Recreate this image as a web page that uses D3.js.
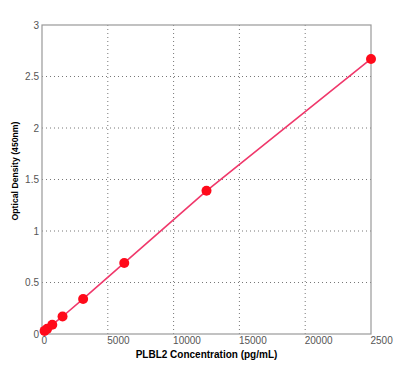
<!DOCTYPE html>
<html>
<head>
<meta charset="utf-8">
<script src="https://cdn.jsdelivr.net/npm/d3@7"></script>
<style>
  body { margin: 0; background: #fff; }
  .tick text { font-family: "Liberation Sans", Arial, sans-serif; font-size: 10px; fill: #555; }
</style>
</head>
<body>
<div id="chart"></div>
<script>
// standard curve data
const concentrations = [195, 390, 781, 1562, 3125, 6250, 12500, 25000];
const densities = [0.03, 0.05, 0.09, 0.17, 0.34, 0.69, 1.39, 2.67];
const xTicks = [0, 5000, 10000, 15000, 20000, 25000];
const xTickLabels = ['0', '5000', '10000', '15000', '20000', '2500'];
const yTicks = [0, 0.5, 1, 1.5, 2, 2.5, 3];
const yTickLabels = ['0', '0.5', '1', '1.5', '2', '2.5', '3'];

const W = 398, H = 373;
const margin = {top: 25, right: 27, bottom: 39, left: 42},
  width = W - margin.left - margin.right,
  height = H - margin.top - margin.bottom;

const svg = d3.select('#chart').append('svg')
  .attr('width', W)
  .attr('height', H)
  .append('g')
  .attr('transform', 'translate(' + margin.left + ',' + margin.top + ')');

const x = d3.scaleLinear().domain([0, 25000]).range([0, width]);
const y = d3.scaleLinear().domain([0, 3]).range([height, 0]);

// grid
svg.append('g')
  .selectAll('line')
  .data(xTicks.slice(1, -1))
  .enter().append('line')
  .attr('x1', d => x(d)).attr('x2', d => x(d))
  .attr('y1', 0).attr('y2', height)
  .attr('stroke', '#777').attr('stroke-dasharray', '1,3');

svg.append('g')
  .selectAll('line')
  .data(yTicks.slice(1, -1))
  .enter().append('line')
  .attr('y1', d => y(d)).attr('y2', d => y(d))
  .attr('x1', 0).attr('x2', width)
  .attr('stroke', '#777').attr('stroke-dasharray', '1,3');

// frame
svg.append('rect')
  .attr('width', width).attr('height', height)
  .attr('fill', 'none').attr('stroke', '#999').attr('stroke-width', 1.2);

// x axis, labels start at tick
const xAxis = svg.append('g')
  .attr('transform', 'translate(0,' + height + ')')
  .call(d3.axisBottom(x).tickValues(xTicks).tickSize(0).tickPadding(3)
    .tickFormat((d, i) => xTickLabels[i]));
xAxis.select('.domain').remove();
xAxis.selectAll('text').attr('text-anchor', 'start').attr('dx', -1);

const yAxis = svg.append('g')
  .call(d3.axisLeft(y).tickValues(yTicks).tickSize(0).tickPadding(3)
    .tickFormat((d, i) => yTickLabels[i]));
yAxis.select('.domain').remove();

// curve
const pts = concentrations.map((c, i) => [c, densities[i]]);
svg.append('path')
  .datum(pts)
  .attr('fill', 'none')
  .attr('stroke', '#f0386b')
  .attr('stroke-width', 1.6)
  .attr('d', d3.line().x(d => x(d[0])).y(d => y(d[1])));

svg.selectAll('.pt')
  .data(pts)
  .enter().append('circle')
  .attr('class', 'pt')
  .attr('cx', d => x(d[0]))
  .attr('cy', d => y(d[1]))
  .attr('r', 5)
  .attr('fill', '#ff0a1a');

// axis titles
svg.append('text')
  .attr('x', width / 2).attr('y', height + 24)
  .attr('text-anchor', 'middle')
  .style('font-family', '"Liberation Sans", Arial, sans-serif')
  .style('font-size', '10px').style('font-weight', 'bold')
  .text('PLBL2 Concentration (pg/mL)');

svg.append('text')
  .attr('transform', 'translate(-24,' + (171 - margin.top) + ') rotate(-90)')
  .attr('text-anchor', 'middle')
  .style('font-family', '"Liberation Sans", Arial, sans-serif')
  .style('font-size', '8.7px').style('font-weight', 'bold')
  .text('Optical Density (450nm)');
</script>
</body>
</html>
